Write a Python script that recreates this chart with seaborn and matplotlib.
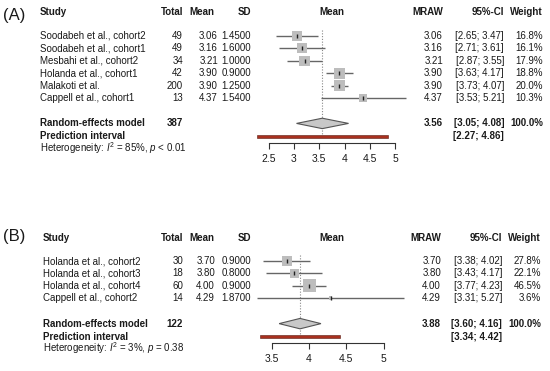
import numpy as np
import pandas as pd
import matplotlib
matplotlib.use('Agg')
import matplotlib.pyplot as plt
import matplotlib.transforms as mtrans
from matplotlib.patches import Polygon
import seaborn as sns

# Panel A data
a_study = ['Soodabeh et al., cohort2', 'Soodabeh et al., cohort1', 'Mesbahi et al., cohort2',
           'Holanda et al., cohort1', 'Malakoti et al.', 'Cappell et al., cohort1']
a_total = [49, 49, 34, 42, 200, 13]
a_mean = [3.06, 3.16, 3.21, 3.90, 3.90, 4.37]
a_sd = [1.45, 1.60, 1.00, 0.90, 1.25, 1.54]
a_lo = [2.65, 2.71, 2.87, 3.63, 3.73, 3.53]
a_hi = [3.47, 3.61, 3.55, 4.17, 4.07, 5.21]
a_weight = [16.8, 16.1, 17.9, 18.8, 20.0, 10.3]
a_pooled = [3.56, 3.05, 4.08]
a_pred = [2.27, 4.86]
a_n = 387
a_het = r'Heterogeneity: $I^2$ = 85%, $p$ < 0.01'
a_ticks = [2.5, 3, 3.5, 4, 4.5, 5]

# Panel B data
b_study = ['Holanda et al., cohort2', 'Holanda et al., cohort3', 'Holanda et al., cohort4',
           'Cappell et al., cohort2']
b_total = [30, 18, 60, 14]
b_mean = [3.70, 3.80, 4.00, 4.29]
b_sd = [0.90, 0.80, 0.90, 1.87]
b_lo = [3.38, 3.43, 3.77, 3.31]
b_hi = [4.02, 4.17, 4.23, 5.27]
b_weight = [27.8, 22.1, 46.5, 3.6]
b_pooled = [3.88, 3.60, 4.16]
b_pred = [3.34, 4.42]
b_n = 122
b_het = r'Heterogeneity: $I^2$ = 3%, $p$ = 0.38'
b_ticks = [3.5, 4, 4.5, 5]

sns.set_style('white')
plt.rcParams['font.family'] = ['Liberation Sans', 'DejaVu Sans']
plt.rcParams['mathtext.fontset'] = 'custom'
plt.rcParams['mathtext.rm'] = 'Liberation Sans'
plt.rcParams['mathtext.it'] = 'Liberation Sans:italic'

W, H = 550, 371
fig = plt.figure(figsize=(W / 100, H / 100), dpi=100)
TXT = '#1a1a1a'
FS = 7


def panel(label, study, total, mean, sd, lo, hi, weight, pooled, pred, n, het, ticks,
          xlim, top_px, row0_px, cols, smax_px):
    df = pd.DataFrame({'study': study, 'total': total, 'mean': mean, 'sd': sd,
                       'lo': lo, 'hi': hi, 'weight': weight})
    df['row'] = np.arange(len(df))
    step = 12.4
    k = len(df)
    r_pool = k + 1.05
    r_pred = r_pool + 1.05
    r_axis = r_pred + 0.5
    r_top = (top_px - row0_px) / step
    # axes placement in pixels
    x0 = cols['x3'] + (xlim[0] - 3) * cols['unit']
    x1 = cols['x3'] + (xlim[1] - 3) * cols['unit']
    bottom_px = row0_px + r_axis * step
    ax = fig.add_axes([x0 / W, 1 - bottom_px / H, (x1 - x0) / W, (bottom_px - top_px) / H])
    ax.set_xlim(*xlim)
    ax.set_ylim(r_axis, r_top)

    ax.hlines(df['row'], df['lo'], df['hi'], color='#666666', lw=1, zorder=2)
    sns.scatterplot(data=df, x='mean', y='row', size='weight', sizes=(0, (smax_px * 0.72) ** 2),
                    size_norm=(0, df['weight'].max()), marker='s', color='#bdbdbd',
                    edgecolor='none', legend=False, ax=ax, zorder=3)
    ax.plot(df['mean'], df['row'], ls='none', marker='|', ms=2.5, mew=1.0, color='#222222', zorder=4)

    ax.vlines(pooled[0], -0.5, r_pred - 0.2, color='#888888', ls=(0, (1, 1.5)), lw=0.8, zorder=1)
    m, l, h = pooled
    ax.add_patch(Polygon([(l, r_pool), (m, r_pool - 0.42), (h, r_pool), (m, r_pool + 0.42)],
                         closed=True, fc='#c8c8c8', ec='#555555', lw=0.8, zorder=3))
    ax.barh(r_pred, pred[1] - pred[0], left=pred[0], height=0.24, color='#a8301f',
            edgecolor='#5a1a10', lw=0.4, zorder=3)

    for s in ['top', 'left', 'right']:
        ax.spines[s].set_visible(False)
    ax.spines['bottom'].set_bounds(ticks[0], ticks[-1])
    ax.spines['bottom'].set_color('#333333')
    ax.spines['bottom'].set_linewidth(0.8)
    ax.set_xticks(ticks)
    ax.set_xticklabels([f'{t:g}' for t in ticks])
    ax.tick_params(axis='x', length=4, width=0.8, color='#333333', labelsize=7.5, pad=4,
                   bottom=True, labelcolor=TXT)
    ax.set_yticks([])
    ax.set_xlabel('')
    ax.set_ylabel('')

    tr = mtrans.blended_transform_factory(mtrans.Affine2D().scale(1 / W, 1) + fig.transFigure,
                                          ax.transData)

    def t(x, y, s, ha='left', bold=False, size=FS):
        ax.text(x, y, s, transform=tr, ha=ha, va='center', fontsize=size, color=TXT,
                fontweight='bold' if bold else 'normal', clip_on=False)

    r_head = r_top - 1.0
    ax.text(cols['label'], cols['label_y'], label, transform=tr, ha='left', va='center',
            fontsize=12, color=TXT, clip_on=False)
    t(cols['study'], r_head, 'Study', bold=True)
    t(cols['total'], r_head, 'Total', 'right', True)
    t(cols['mhead'], r_head, 'Mean', 'right', True)
    t(cols['sd'], r_head, 'SD', 'right', True)
    t((x0 + x1) / 2, r_head, 'Mean', 'center', True)
    t(cols['mraw'], r_head, 'MRAW', 'right', True)
    t(cols['ci'], r_head, '95%-CI', 'right', True)
    t(cols['w'], r_head, 'Weight', 'right', True)
    for _, d in df.iterrows():
        y = d['row']
        t(cols['study'], y, d['study'])
        t(cols['total'], y, f"{d['total']:.0f}", 'right')
        t(cols['mean'], y, f"{d['mean']:.2f}", 'right')
        t(cols['sd'], y, f"{d['sd']:.4f}", 'right')
        t(cols['mraw'], y, f"{d['mean']:.2f}", 'right')
        t(cols['ci'], y, f"[{d['lo']:.2f}; {d['hi']:.2f}]", 'right')
        t(cols['w'], y, f"{d['weight']:.1f}%", 'right')
    t(cols['study'], r_pool, 'Random-effects model', bold=True)
    t(cols['total'], r_pool, f'{n}', 'right', True)
    t(cols['mraw'], r_pool, f'{m:.2f}', 'right', True)
    t(cols['ci'], r_pool, f'[{l:.2f}; {h:.2f}]', 'right', True)
    t(cols['w'], r_pool, '100.0%', 'right', True)
    t(cols['study'], r_pred, 'Prediction interval', bold=True)
    t(cols['ci'], r_pred, f'[{pred[0]:.2f}; {pred[1]:.2f}]', 'right', True)
    t(cols['study'], r_pred + 0.95, het)
    return ax


cols_a = dict(x3=294, unit=50.5, label=3, label_y=-1.65, study=40, total=183, mean=218,
              mhead=214, sd=251, mraw=443, ci=504, w=543)
panel('(A)', a_study, a_total, a_mean, a_sd, a_lo, a_hi, a_weight, a_pooled, a_pred, a_n,
      a_het, a_ticks, (2.2, 5.3), 24, 36, cols_a, 11)

cols_b = dict(x3=309 - 74.7, unit=74.7, label=3, label_y=-1.95, study=43, total=183, mean=215,
              mhead=214, sd=251, mraw=441, ci=502, w=541)
panel('(B)', b_study, b_total, b_mean, b_sd, b_lo, b_hi, b_weight, b_pooled, b_pred, b_n,
      b_het, b_ticks, (3.25, 5.35), 250, 261, cols_b, 13)

fig.savefig('out.png', dpi=100)
